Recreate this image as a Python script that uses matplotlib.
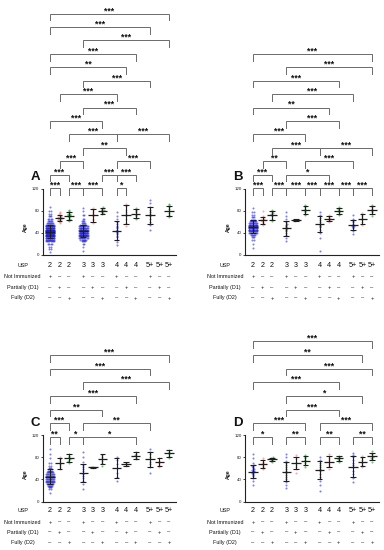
import matplotlib
matplotlib.use('Agg')
import matplotlib.pyplot as plt
from matplotlib.transforms import offset_copy

plt.rcParams['font.family'] = ['Liberation Sans', 'DejaVu Sans']

# ---------------- data ----------------
usp_labels = ['2', '2', '2', '3', '3', '3', '4', '4', '4', '5+', '5+', '5+']
status = [0, 1, 2, 0, 1, 2, 0, 1, 2, 0, 1, 2]  # 0 Not immunized, 1 Partially, 2 Fully
row_labels = ['USP', 'Not Immunized', 'Partially (D1)', 'Fully (D2)']
panel_letters = ['A', 'B', 'C', 'D']

A_mean = [42, 67, 71, 44, 72, 80, 44, 73, 75, 72, None, 80]
A_sd = [12, 5, 7, 11, 12, 5, 17, 17, 8, 15, None, 9]
A_pts = [
    [5, 10, 10, 15, 15, (20, 4), (25, 8), (28, 10), (31, 14), (34, 18), (37, 22), (40, 26), (43, 26),
     (46, 22), (49, 18), (52, 14), (55, 10), (58, 7), (62, 5), (66, 4), (70, 3), (75, 2), (80, 2), 86],
    [58, 60, 62, 63, 64, 65, 66, 66, 67, 68, 68, 69, 70, 71, 72, 74, 76, 78],
    [62, 64, 66, 68, 70, 70, 71, 72, 73, 74, 75, 77, 79, 82],
    [8, 15, 20, 20, (25, 4), (28, 6), (31, 9), (34, 12), (37, 15), (40, 17), (43, 17), (46, 15),
     (49, 12), (52, 9), (55, 6), (58, 4), (62, 3), 66, 66, 72, 72, 80, 85],
    [58, 63, 66, 70, 72, 75, 78, 82, 85],
    [74, 76, 78, 79, 80, 81, 82, 84, 86],
    [18, 24, 28, 32, 35, 38, 40, 42, 44, 46, 48, 50, 53, 56, 60, 65, 70, 78],
    [52, 58, 65, 70, 74, 78, 82, 88, 92],
    [66, 70, 73, 75, 77, 79, 82, 85],
    [45, 55, 60, 65, 70, 74, 78, 82, 86, 95, 100],
    [],
    [68, 72, 76, 80, 83, 86, 90, 93],
]
A_br = [(0, 0, 1, '***'), (0, 2, 3, '***'), (0, 3, 5, '***'), (0, 6, 7, '*'),
        (1, 0, 2, '***'), (1, 5, 6, '***'), (1, 6, 8, '***'),
        (2, 1, 3, '***'), (2, 6, 9, '***'),
        (3, 3, 7, '**'),
        (4, 2, 6, '***'), (4, 6, 11, '***'),
        (5, 0, 5, '***'), (6, 3, 8, '***'), (7, 1, 6, '***'), (8, 3, 9, '***'),
        (9, 0, 7, '**'), (10, 0, 8, '***'), (11, 3, 11, '***'), (12, 0, 9, '***'), (13, 0, 11, '***')]

B_mean = [51, 63, 72, 48, 63, 81, 56, 66, 80, 54, 66, 81]
B_sd = [12, 6, 8, 13, 1.5, 7, 14, 4, 5, 9, 9, 7]
B_pts = [
    [12, 20, 28, 28, (32, 3), (36, 5), (40, 8), (43, 10), (46, 12), (49, 13), (52, 13), (55, 11),
     (58, 9), (61, 7), (64, 5), (68, 3), 72, 72, 78, 78, 85],
    [55, 58, 60, 62, 63, 64, 65, 66, 68, 70, 80],
    [62, 66, 70, 72, 74, 76, 78, 82],
    [25, 30, 36, 40, 43, 45, 47, 48, 50, 52, 54, 56, 60, 65, 70, 78],
    [62, 63, 63, 64],
    [72, 75, 78, 80, 82, 84, 87, 90],
    [8, 30, 40, 45, 50, 53, 55, 57, 60, 63, 67, 72, 78],
    [60, 63, 65, 66, 67, 69, 72],
    [72, 75, 78, 80, 82, 84, 86],
    [38, 44, 48, 50, 52, 53, 55, 57, 59, 62, 66, 72],
    [55, 60, 64, 67, 70, 73, 76],
    [70, 74, 77, 80, 82, 84, 87, 90],
]
B_br = [(0, 0, 1, '***'), (0, 2, 3, '***'), (0, 3, 5, '***'), (0, 5, 6, '***'), (0, 6, 8, '***'),
        (0, 8, 9, '***'), (0, 9, 11, '***'),
        (1, 0, 2, '***'), (1, 3, 7, '*'),
        (2, 1, 3, '**'), (2, 5, 9, '***'),
        (3, 2, 6, '***'), (3, 6, 11, '***'),
        (4, 0, 5, '***'), (5, 3, 8, '***'), (6, 0, 7, '**'), (7, 2, 9, '***'),
        (8, 0, 8, '***'), (9, 3, 11, '***'), (10, 0, 11, '***')]

C_mean = [45, 69, 78, 52, 62, 76, 60, 68, 83, 76, 71, 87]
C_sd = [13, 10, 7, 16, 1, 9, 18, 3, 6, 13, 7.5, 6.5]
C_pts = [
    [15, 22, 22, (26, 3), (29, 5), (32, 7), (35, 8), (38, 9), (41, 10), (44, 10), (47, 9), (50, 8),
     (53, 7), (56, 5), (60, 3), 65, 65, 70, 70, 78, 85, 95],
    [58, 62, 66, 68, 70, 73, 76, 80],
    [70, 74, 76, 78, 80, 82, 85],
    [22, 32, 38, 42, 46, 50, 52, 55, 58, 62, 66, 72, 80, 90],
    [61, 62, 63],
    [65, 70, 74, 77, 80, 84],
    [38, 45, 52, 60, 68, 75, 80],
    [64, 66, 68, 70],
    [76, 79, 82, 84, 86, 90],
    [52, 62, 68, 72, 76, 80, 85, 90, 95],
    [62, 66, 70, 74, 78],
    [78, 82, 85, 87, 90, 93],
]
C_br = [(0, 0, 1, '**'), (0, 2, 3, '*'), (0, 3, 8, '*'),
        (1, 0, 2, '***'), (1, 3, 9, '**'),
        (2, 0, 5, '**'), (3, 0, 8, '***'), (4, 3, 11, '***'), (5, 0, 9, '***'), (6, 0, 11, '***')]

D_mean = [54, 68, 76, 54, 69, 74, 57, 72, 78, 63, 72, 82]
D_sd = [11.5, 7.5, 3.5, 17, 11, 7.5, 16.5, 10, 4, 19, 8.5, 6.5]
D_pts = [
    [30, 38, 42, 46, 48, 50, 52, 53, 54, 55, 56, 57, 58, 60, 62, 64, 66, 70, 78, 85],
    [58, 62, 65, 67, 68, 70, 72, 75, 78],
    [72, 74, 75, 76, 77, 78, 79, 80],
    [25, 30, 36, 40, 44, 48, 52, 55, 58, 62, 66, 70, 74, 80, 85],
    [52, 58, 62, 66, 70, 72, 76, 80, 84],
    [62, 66, 70, 73, 75, 78, 80, 84],
    [20, 30, 38, 44, 50, 55, 58, 62, 66, 70, 75, 80],
    [58, 64, 68, 72, 75, 78, 82, 85],
    [72, 75, 77, 78, 80, 82],
    [35, 42, 50, 56, 62, 66, 70, 75, 80, 84, 88],
    [62, 66, 70, 72, 75, 78, 82],
    [72, 76, 79, 81, 83, 85, 88, 92],
]
D_br = [(0, 0, 2, '*'), (0, 3, 5, '**'), (0, 6, 8, '**'), (0, 9, 11, '**'),
        (1, 0, 5, '***'), (1, 6, 11, '***'),
        (2, 3, 8, '***'), (3, 3, 10, '*'), (4, 0, 8, '***'), (5, 3, 11, '***'),
        (6, 0, 10, '**'), (7, 0, 11, '***')]

# ---------------- style / layout ----------------
pt_colors = ['#1c1ccf', '#e07a7a', '#2f9a3a']
pt_alpha = [0.55, 0.6, 0.65]
bar_color = '#1e1e1e'
br_color = '#6a6a6a'

W, H = 384, 550
fig = plt.figure(figsize=(W / 100, H / 100), dpi=100)

layouts = [
    dict(spine=42.7, cat0=50, y0=255, ytop=5, ymax=452.5, lvl0=121, step=24.3,
         rows=[10.5, 22, 32.5, 43]),
    dict(spine=245, cat0=253, y0=255, ytop=5, ymax=452.5, lvl0=121, step=24.3,
         rows=[10.5, 22, 32.5, 43]),
    dict(spine=42.7, cat0=50, y0=501.7, ytop=330, ymax=309, lvl0=116.5, step=24.6,
         rows=[8.5, 20.3, 30.5, 40.7]),
    dict(spine=245, cat0=253, y0=501.7, ytop=330, ymax=309, lvl0=116.5, step=24.6,
         rows=[8.5, 20.3, 30.5, 40.7]),
]
PX_PER_UNIT = 9.52
XR = 13.3

positions = []
for g in range(4):
    for m in range(3):
        positions.append(g * 3.5 + m)


def expand(items):
    out = []
    for it in items:
        if isinstance(it, tuple):
            out += [it[0]] * it[1]
        else:
            out.append(it)
    return out


def offsets(ages):
    groups = {}
    for i, a in enumerate(ages):
        groups.setdefault(round(a / 2.5), []).append(i)
    offs = [0.0] * len(ages)
    for idx in groups.values():
        n = len(idx)
        if n == 1:
            continue
        w = min(0.45, 0.06 * (n - 1))
        for k, i in enumerate(idx):
            offs[i] = -w + 2 * w * k / (n - 1)
    return offs


panels = [(A_mean, A_sd, A_pts, A_br), (B_mean, B_sd, B_pts, B_br),
          (C_mean, C_sd, C_pts, C_br), (D_mean, D_sd, D_pts, D_br)]

for p, (means, sds, pts, brs) in enumerate(panels):
    L = layouts[p]
    xl = -(L['cat0'] - L['spine']) / PX_PER_UNIT
    width_px = (XR - xl) * PX_PER_UNIT
    ax = fig.add_axes([L['spine'] / W, (H - L['y0']) / H, width_px / W, (L['y0'] - L['ytop']) / H])
    ax.set_xlim(xl, XR)
    ax.set_ylim(0, L['ymax'])
    ax.patch.set_alpha(0)
    for s in ['top', 'right']:
        ax.spines[s].set_visible(False)
    ax.spines['left'].set_bounds(0, 120)
    ax.spines['bottom'].set_bounds(xl, positions[-1] + 0.7)
    for s in ['left', 'bottom']:
        ax.spines[s].set_linewidth(0.8)
        ax.spines[s].set_color('#222222')
    ax.set_xticks([])
    ax.set_yticks([0, 40, 80, 120])
    ax.tick_params(axis='y', labelsize=3.2, length=1.6, width=0.6, pad=0.8, colors='#222222')

    for i in range(12):
        ages = expand(pts[i])
        if ages:
            offs = offsets(ages)
            ax.scatter([positions[i] + o for o in offs], ages, s=2.2, linewidths=0,
                       color=pt_colors[status[i]], alpha=pt_alpha[status[i]], zorder=2)
        if means[i] is not None:
            x = positions[i]
            m, sd = means[i], sds[i]
            ax.vlines(x, m - sd, m + sd, color=bar_color, lw=0.8, zorder=3)
            ax.hlines([m - sd, m + sd], x - 0.3, x + 0.3, color=bar_color, lw=0.8, zorder=3)
            ax.hlines(m, x - 0.5, x + 0.5, color=bar_color, lw=0.9, zorder=3)

    leg = 12
    for lvl, a, b, txt in brs:
        y = L['lvl0'] + lvl * L['step']
        xa, xb = positions[a], positions[b]
        ax.plot([xa, xa, xb, xb], [y - leg, y, y, y - leg], color=br_color, lw=0.7,
                solid_joinstyle='miter', clip_on=False, zorder=4)
        ax.text((xa + xb) / 2, y + 1.0, txt, ha='center', va='baseline', fontsize=6.2,
                fontweight='bold', color='#111111', clip_on=False)

    tr = offset_copy(ax.transData, fig=fig, x=-7, y=12, units='dots')
    ax.text(xl, 120, panel_letters[p], transform=tr, ha='center', va='center',
            fontsize=9.5, fontweight='bold', color='#111111')

    tr = offset_copy(ax.transData, fig=fig, x=-17, y=0, units='dots')
    ax.text(xl, 50, 'Age', transform=tr, ha='center', va='center', rotation=90,
            fontsize=3.6, fontweight='bold', color='#111111')

    for r, lab in enumerate(row_labels):
        tr = offset_copy(ax.transData, fig=fig, x=0, y=-L['rows'][r], units='dots')
        trl = offset_copy(ax.transData, fig=fig, x=-20, y=-L['rows'][r], units='dots')
        ax.text(xl, 0, lab, transform=trl, ha='center', va='center', fontsize=3.9,
                color='#111111', clip_on=False)
        for i in range(12):
            if r == 0:
                t = usp_labels[i]
                fs = 5.2
            else:
                t = '+' if status[i] == r - 1 else '\u2013'
                fs = 4.2
            ax.text(positions[i], 0, t, transform=tr, ha='center', va='center', fontsize=fs,
                    color='#111111', clip_on=False)

fig.savefig('out.png', dpi=100)
